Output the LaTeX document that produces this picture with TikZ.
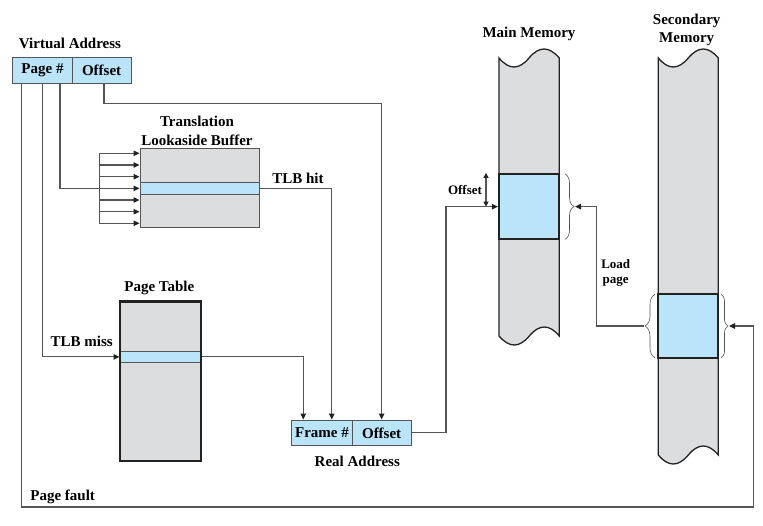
\documentclass[tikz,border=0pt]{standalone}
\usepackage{fontspec}
\setmainfont{Liberation Serif}
\usetikzlibrary{arrows.meta,decorations.pathreplacing,calc}
\definecolor{memgray}{HTML}{DCDDDF}
\definecolor{membl}{HTML}{BAE4F7}
\definecolor{lnc}{HTML}{555555}
\definecolor{edge}{HTML}{222222}
\begin{document}
\begin{tikzpicture}[x=1pt,y=-1pt,
  font=\bfseries\fontsize{15}{18.3}\selectfont,
  conn/.style={draw=lnc, line width=1.1pt},
  arr/.style={conn, -{Triangle[length=6pt,width=5.5pt,color=edge]}},
  darr/.style={conn, {Triangle[length=5pt,width=5pt,color=edge]}-{Triangle[length=5pt,width=5pt,color=edge]}},
  fieldbox/.style={draw=lnc, fill=membl, line width=1pt, inner sep=0pt, minimum height=26pt},
  rowbox/.style={draw=lnc, fill=membl, line width=1pt, inner sep=0pt},
  blk/.style={draw=edge, fill=membl, line width=2.2pt, inner sep=0pt},
  colshape/.style={fill=memgray, draw=edge, line width=1.3pt},
  brc/.style={draw=lnc, line width=0.6pt, decorate},
  lbl/.style={inner sep=0pt},
  small/.style={inner sep=0pt, font=\bfseries\fontsize{13}{15}\selectfont}]
\useasboundingbox (0,0) rectangle (763,525);

% Virtual address
\node[lbl] (lva) at (70,43) {Virtual Address};
\node[fieldbox, minimum width=59.6pt] (page) at (42.5,70.3) {Page \#};
\node[fieldbox, minimum width=58.7pt] (voff) at (101.65,70.3) {Offset};

% TLB
\node[lbl, align=center] (ltlb) at (197,131) {Translation\\Lookaside Buffer};
\node[draw=lnc, fill=memgray, line width=1pt, minimum width=119.3pt, minimum height=79pt, inner sep=0pt] (tlb) at (199.65,187.8) {};
\node[rowbox, minimum width=119.3pt, minimum height=11.3pt] (tlbrow) at (199.65,188.35) {};
\draw[conn] (99.3,153.3) -- (99.3,223.3);
\foreach \yy in {153.3,165,176.7,200,211.7,223.3}
  \draw[arr] (99.3,\yy) -- (tlb.west |- 0,\yy);
\node[lbl] (lhit) at (298,178) {TLB hit};

% Page table
\node[lbl] (lpt) at (159.3,288.3) {Page Table};
\node[fill=memgray, minimum width=81pt, minimum height=159.3pt, inner sep=0pt] (pt) at (160.5,381.35) {};
\node[rowbox, minimum width=81pt, minimum height=11.7pt] (ptrow) at (160.5,356.85) {};
\draw[draw=edge, line width=2.2pt] (pt.north west) rectangle (pt.south east);
\node[lbl] (lmiss) at (81.7,341.7) {TLB miss};

% Real address
\node[fieldbox, minimum width=60.6pt, minimum height=25.7pt] (frame) at (322,432.85) {Frame \#};
\node[fieldbox, minimum width=58.7pt, minimum height=25.7pt] (roff) at (381.65,432.85) {Offset};
\node[lbl] (lra) at (357.3,461) {Real Address};

% Main memory
\node[lbl] (lmm) at (529,34) {Main Memory};
\path[colshape] (499,58) .. controls (509,70) and (519,70) .. (529,58)
  .. controls (539,46) and (549,46) .. (559.3,58) -- (559.3,336)
  .. controls (549.3,324) and (539.3,324) .. (529.3,336)
  .. controls (519.3,348) and (509.3,348) .. (499,336) -- cycle;
\node[blk, minimum width=60.3pt, minimum height=65.3pt] (mmblk) at (529.15,206.65) {};
\draw[brc, decoration={brace, amplitude=9pt}] (565,174) -- (565,239.3);
\coordinate (mmbr) at (575,206.65);
\draw[darr] (mmblk.north west -| 486,0) -- (mmblk.west -| 486,0);
\node[small] (loff) at (465,190) {Offset};

% Secondary memory
\node[lbl, align=center] (lsm) at (686.7,30) {Secondary\\Memory};
\path[colshape] (658.3,58) .. controls (668.3,70) and (678.3,70) .. (688.3,58)
  .. controls (698.3,46) and (708.3,46) .. (718.3,58) -- (718.3,455)
  .. controls (708.3,443) and (698.3,443) .. (688.3,455)
  .. controls (678.3,467) and (668.3,467) .. (658.3,455) -- cycle;
\node[blk, minimum width=60pt, minimum height=63.4pt] (smblk) at (688.3,326) {};
\draw[brc, decoration={brace, amplitude=10pt}] (655,357.7) -- (655,294.3);
\draw[brc, decoration={brace, amplitude=7pt}] (721,294.3) -- (721,357.7);
\coordinate (slb) at (644,326);
\coordinate (srb) at (729,326);
\node[small, align=center] (lload) at (615.7,272.5) {Load\\page};

% Connectors
\coordinate (c1) at (104,103.3);
\draw[arr] (voff.south -| c1) -- (c1) -| (roff.north);
\draw[arr] (page.south -| 60,0) |- (tlbrow.west);
\coordinate (hitx) at (331.7,0);
\draw[arr] (tlbrow.east) -| (frame.north -| hitx);
\coordinate (ptx) at (303.3,0);
\draw[arr] (ptrow.east) -| (frame.north -| ptx);
\draw[arr] (page.south -| 42.7,0) |- (ptrow.west);
\coordinate (c2) at (446,0);
\draw[arr] (roff.east) -- (roff.east -| c2) |- (mmblk.west);
\coordinate (lp) at (596.7,0);
\draw[arr] (slb) -- (slb -| lp) |- (mmbr);
\coordinate (pfl) at (21.7,507);
\coordinate (pfr) at (753.3,507);
\draw[arr] (page.south -| pfl) -- (pfl) -- (pfr) |- (srb);
\node[lbl] (lpf) at (62.7,497.3) {Page fault};
\end{tikzpicture}
\end{document}
